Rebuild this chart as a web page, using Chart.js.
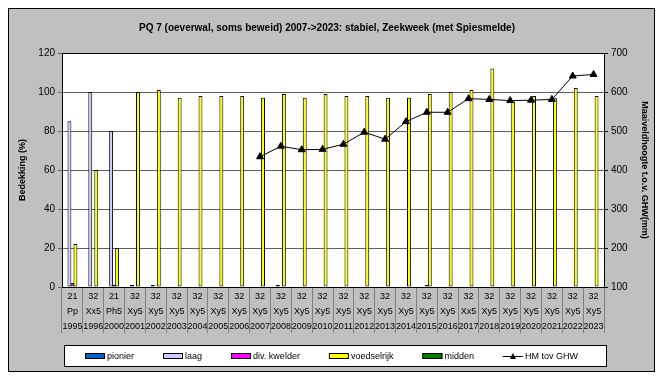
<!DOCTYPE html>
<html>
<head>
<meta charset="utf-8">
<script src="https://cdn.jsdelivr.net/npm/chart.js@4.4.1/dist/chart.umd.min.js"></script>
<style>
  html, body { margin: 0; padding: 0; background: #fff; }
  #wrap { width: 663px; height: 376px; position: relative; }
</style>
</head>
<body>
<div id="wrap"><canvas id="chart" width="663" height="376"></canvas></div>
<script>
/* PQ 7 bedekking + maaiveldhoogte */

const chartTitle = "PQ 7 (oeverwal, soms beweid) 2007->2023: stabiel, Zeekweek (met Spiesmelde)";

const codes = ["21","32","21","32","32","32","32","32","32","32","32","32","32","32","32","32","32","32","32","32","32","32","32","32","32","32"];
const types = ["Pp","Xx5","Ph5","Xy5","Xy5","Xy5","Xy5","Xy5","Xy5","Xy5","Xy5","Xy5","Xy5","Xy5","Xy5","Xy5","Xy5","Xy5","Xy5","Xx5","Xy5","Xy5","Xy5","Xy5","Xy5","Xy5"];
const years = ["1995","1996","2000","2001","2002","2003","2004","2005","2006","2007","2008","2009","2010","2011","2012","2013","2014","2015","2016","2017","2018","2019","2020","2021","2022","2023"];

const pionier     = [0,0,0,0,0,0,0,0,0,0,0,0,0,0,0,0,0,0,0,0,0,0,0,0,0,0];
const laag        = [85,100,80,1,1,0,0,0,0,0,1,0,0,0,0,0,0,0,0,0,0,0,0,0,0,0];
const divKwelder  = [2,0,1,0,0,0,0,0,0,0,0,0,0,0,0,0,0,1,0,0,0,0,0,0,0,0];
const voedselrijk = [22,60,20,100,101,97,98,98,98,97,99,97,99,98,98,97,97,99,100,101,112,95,98,97,102,98];
const midden      = [0,0,0,0,0,0,0,0,0,0,0,0,0,0,0,0,0,0,0,0,0,0,0,0,0,0];
const hmGhw       = [null,null,null,null,null,null,null,null,null,434,461,452,453,466,497,479,524,548,548,583,581,578,579,581,641,645];

const yTicksLeft = { min: 0, max: 120, step: 20 };
const yTicksRight = { min: 100, max: 700, step: 100 };

const FONT = "'Liberation Sans', Arial, sans-serif";

function barSet(label, data, color) {
  return {
    type: "bar",
    label: label,
    data: data,
    backgroundColor: color,
    borderColor: "#000",
    borderWidth: ctx => (ctx.raw ? 1 : 0),
    borderSkipped: false,
    categoryPercentage: 0.72,
    barPercentage: 1.3,
    yAxisID: "y",
    order: 2
  };
}

/* background, title, plot frame, legend */
const decor = {
  id: "decor",
  beforeDraw(chart) {
    const c = chart.ctx, a = chart.chartArea;
    c.save();
    c.fillStyle = "#fff";
    c.fillRect(0, 0, chart.width, chart.height);
    c.fillStyle = "#c0c0c0";
    c.fillRect(8, 8, 647, 364);
    c.strokeStyle = "#000";
    c.lineWidth = 1;
    c.strokeRect(8.5, 8.5, 646, 363);
    c.fillStyle = "#fff";
    c.fillRect(a.left, a.top, a.right - a.left, a.bottom - a.top);
    c.restore();
  },
  afterDraw(chart) {
    const c = chart.ctx, a = chart.chartArea;
    c.save();
    c.strokeStyle = "#000";
    c.lineWidth = 1;
    c.strokeRect(Math.round(a.left) + 0.5, Math.round(a.top) + 0.5, Math.round(a.right - a.left), Math.round(a.bottom - a.top));

    c.fillStyle = "#000";
    c.font = "bold 10px " + FONT;
    c.textAlign = "center";
    c.textBaseline = "middle";
    c.fillText(chartTitle, 327, 28);

    // legend box
    c.fillStyle = "#fff";
    c.fillRect(64, 345, 542, 21);
    c.strokeStyle = "#000";
    c.strokeRect(64.5, 345.5, 542, 21);

    c.font = "9px " + FONT;
    c.textAlign = "left";
    const items = chart.data.datasets.slice().sort((p, q) => p.legendIndex - q.legendIndex);
    const gap = 29;
    let total = 0;
    items.forEach(d => { total += 22 + c.measureText(d.label).width; });
    total += gap * (items.length - 1);
    let x = Math.round(331 - total / 2);
    const yc = 356;
    items.forEach(d => {
      if (d.type === "line") {
        c.strokeStyle = "#000";
        c.beginPath();
        c.moveTo(x, yc + 0.5);
        c.lineTo(x + 20, yc + 0.5);
        c.stroke();
        c.fillStyle = "#000";
        c.beginPath();
        c.moveTo(x + 10, yc - 3);
        c.lineTo(x + 13, yc + 3);
        c.lineTo(x + 7, yc + 3);
        c.closePath();
        c.fill();
      } else {
        c.fillStyle = d.backgroundColor;
        c.fillRect(x, yc - 3, 20, 6);
        c.strokeStyle = "#000";
        c.strokeRect(x + 0.5, yc - 2.5, 19, 5);
      }
      c.fillStyle = "#000";
      c.fillText(d.label, x + 22, yc + 0.5);
      x += 22 + c.measureText(d.label).width + gap;
    });
    c.restore();
  }
};

const datasets = [
  Object.assign(barSet("pionier", pionier, "#0066cc"), { legendIndex: 0 }),
  Object.assign(barSet("laag", laag, "#ccccff"), { legendIndex: 1 }),
  Object.assign(barSet("div. kwelder", divKwelder, "#ff00ff"), { legendIndex: 2 }),
  Object.assign(barSet("voedselrijk", voedselrijk, "#ffff00"), { legendIndex: 3 }),
  Object.assign(barSet("midden", midden, "#008000"), { legendIndex: 4 }),
  {
    type: "line",
    label: "HM tov GHW",
    legendIndex: 5,
    data: hmGhw,
    borderColor: "#000",
    borderWidth: 1,
    backgroundColor: "#000",
    pointStyle: "triangle",
    pointRadius: 4,
    pointBackgroundColor: "#000",
    pointBorderColor: "#000",
    yAxisID: "y1",
    order: 1
  }
];

const labels = years.map((y, i) => [codes[i], types[i], y]);

new Chart(document.getElementById("chart"), {
  type: "bar",
  data: { labels: labels, datasets: datasets },
  plugins: [decor],
  options: {
    responsive: false,
    animation: false,
    layout: { padding: { top: 53, left: 10, right: 8, bottom: 0 } },
    plugins: {
      legend: { display: false },
      title: { display: false },
      tooltip: { enabled: false }
    },
    scales: {
      x: {
        offset: true,
        grid: {
          offset: true,
          drawOnChartArea: false,
          drawTicks: true,
          tickLength: 46,
          color: "#808080"
        },
        border: { display: false },
        ticks: {
          color: "#000",
          font: { family: FONT, size: 9, lineHeight: 1.65 },
          padding: -44,
          maxRotation: 0,
          autoSkip: false
        },
        afterFit(s) { s.height = 89; }
      },
      y: {
        position: "left",
        min: yTicksLeft.min,
        max: yTicksLeft.max,
        ticks: {
          stepSize: yTicksLeft.step,
          color: "#000",
          font: { family: FONT, size: 10 },
          padding: 3
        },
        grid: { color: "#606060", tickLength: 4, drawTicks: true },
        border: { display: true, color: "#000" },
        title: {
          display: true,
          text: "Bedekking (%)",
          color: "#000",
          font: { family: FONT, size: 9, weight: "bold" },
          padding: { top: 7, bottom: 0 }
        },
        afterFit(s) { s.width = 52; }
      },
      y1: {
        position: "right",
        min: yTicksRight.min,
        max: yTicksRight.max,
        ticks: {
          stepSize: yTicksRight.step,
          color: "#000",
          font: { family: FONT, size: 10 },
          padding: 3
        },
        grid: { drawOnChartArea: false, tickLength: 4, color: "#000" },
        border: { display: true, color: "#000" },
        title: {
          display: true,
          text: "Maaiveldhoogte t.o.v. GHW(mm)",
          color: "#000",
          font: { family: FONT, size: 9, weight: "bold" },
          padding: { top: 5, bottom: 0 }
        },
        afterFit(s) { s.width = 51; }
      }
    }
  }
});
</script>
</body>
</html>
